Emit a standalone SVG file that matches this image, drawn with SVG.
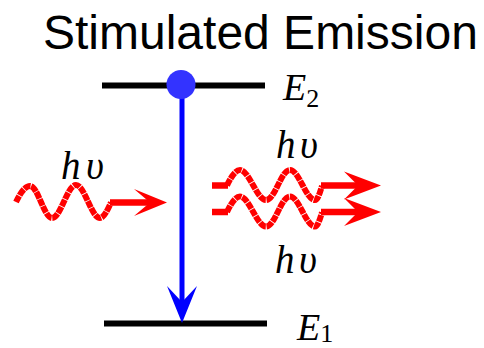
<svg xmlns="http://www.w3.org/2000/svg" xmlns:xlink="http://www.w3.org/1999/xlink" width="484" height="348" viewBox="0 0 484 348">
  <style>
    .level { stroke: #000; stroke-width: 6; fill: none; }
    .wave { stroke: #ff0000; stroke-width: 6; fill: none; stroke-dasharray: 7 0.8; stroke-linejoin: round; }
    .shaft { stroke: #ff0000; stroke-width: 6.5; fill: none; }
    .head { fill: #ff0000; }
    .title { font-family: "Liberation Sans", Arial, sans-serif; font-size: 48px; fill: #000; }
    .math { font-family: "Liberation Serif", "Times New Roman", serif; font-style: italic; fill: #000; }
  </style>
  <defs>
    <g id="photonOut">
      <path class="shaft" d="M212,185.5 L228,185.5"/>
      <path class="wave" d="M227,185.5 C230,179 235,170 240,170 C249,170 257,200 266,200 C275,200 281,170 290,170 C299,170 306,200 315,200 C318,200 320,192 322,186"/>
      <path class="shaft" d="M321,185.5 L362,185.5"/>
      <polygon class="head" points="381,185.5 344,171.5 358,185.5 344,199.5"/>
    </g>
  </defs>

  <g id="title">
    <text class="title" x="43" y="49">Stimulated Emission</text>
  </g>

  <g id="level-E2">
    <line class="level" x1="102" y1="85.5" x2="265" y2="85.5"/>
    <text class="math" x="283" y="100" font-size="38">E<tspan font-size="26" font-style="normal" dy="7">2</tspan></text>
  </g>

  <g id="level-E1">
    <line class="level" x1="104" y1="323.5" x2="267" y2="323.5"/>
    <text class="math" x="297" y="340" font-size="38">E<tspan font-size="26" font-style="normal" dy="2">1</tspan></text>
  </g>

  <g id="connectors">
    <g id="transition">
      <line x1="182" y1="90" x2="182" y2="304" stroke="#0000ff" stroke-width="5"/>
      <polygon points="182,323 167,286 182,302 197,286" fill="#0000ff"/>
    </g>
  </g>

  <g id="electron">
    <circle cx="181" cy="84.5" r="14.5" fill="#3333ff"/>
  </g>

  <g id="photon-in">
    <path class="wave" d="M16,202 C19,196 24,186 30,186 C38,186 44,218 52,218 C60.7,218 67.3,185 76,185 C84.7,185 91.3,218 100,218 C104,218 108,209 111,202.5"/>
    <path class="shaft" d="M110,202.5 L152,202.5"/>
    <polygon class="head" points="167,202.5 134,189 150,202.5 134,216"/>
    <text class="math" x="61" y="179" font-size="39">h<tspan x="86">υ</tspan></text>
  </g>

  <g id="photon-out-1">
    <use xlink:href="#photonOut"/>
    <text class="math" x="276" y="158" font-size="39">h<tspan x="300">υ</tspan></text>
  </g>

  <g id="photon-out-2">
    <use xlink:href="#photonOut" transform="translate(0,26.5)"/>
    <text class="math" x="275" y="273" font-size="39">h<tspan x="299">υ</tspan></text>
  </g>
</svg>
